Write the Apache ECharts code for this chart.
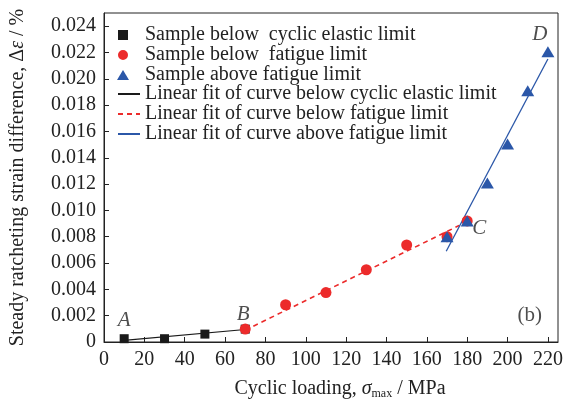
<!DOCTYPE html>
<html><head><meta charset="utf-8">
<script src="https://cdn.jsdelivr.net/npm/echarts@6/dist/echarts.min.js"></script>
<style>html,body{margin:0;padding:0;background:#fff}#c{width:566px;height:405px}</style>
</head><body><div id="c"></div>
<script>
// Data
const elasticX = [10, 30, 50, 70];
const elasticY = [0.00025, 0.00025, 0.0006, 0.00098];
const fatigueBelowX = [70, 90, 110, 130, 150, 170, 180];
const fatigueBelowY = [0.00098, 0.00283, 0.00376, 0.00549, 0.00737, 0.0080, 0.0092];
const fatigueAboveX = [170, 180, 190, 200, 210, 220];
const fatigueAboveY = [0.0080, 0.0092, 0.01208, 0.01504, 0.0191, 0.02206];
const fitElasticX = [10, 70];
const fitElasticY = [0.00013, 0.00095];
const fitBelowX = [70, 176];
const fitBelowY = [0.0009, 0.00885];
const fitAboveX = [169.6, 220];
const fitAboveY = [0.0069, 0.0215];
const pointLabels = ['A', 'B', 'C', 'D'];
const pointLabelX = [10, 69, 186, 216];
const pointLabelY = [0.0016, 0.0021, 0.0086, 0.0234];
const panelLabel = '(b)';
const panelX = 211;
const panelY = 0.0020;
const seriesNames = [
  'Sample below  cyclic elastic limit',
  'Sample below  fatigue limit',
  'Sample above fatigue limit',
  'Linear fit of curve below cyclic elastic limit',
  'Linear fit of curve below fatigue limit',
  'Linear fit of curve above fatigue limit'
];

const zip = (xs, ys) => xs.map((x, i) => [x, ys[i]]);
const FONT = 'Liberation Serif';
const TXT = '#222';
const BLACK = '#1a1a1a', RED = '#ec2b2b', BLUE = '#2b57a8';
const ICON_SQUARE = 'path://M0,0H10V10H0Z';
const ICON_CIRCLE = 'path://M5,0A5,5,0,1,1,4.99,0Z';
const ICON_TRI = 'path://M6,0L12,10H0Z';

const chart = echarts.init(document.getElementById('c'));
chart.setOption({
  animation: false,
  textStyle: { fontFamily: FONT },
  grid: { left: 104, right: 8, top: 13, bottom: 59, show: true, borderColor: TXT, borderWidth: 1 },
  legend: [
    {
      data: [
        { name: seriesNames[0], icon: ICON_SQUARE },
        { name: seriesNames[1], icon: ICON_CIRCLE },
        { name: seriesNames[2], icon: ICON_TRI }
      ],
      orient: 'vertical', left: 117, top: 25,
      itemWidth: 22, itemHeight: 10, itemGap: 0, padding: 0, symbolKeepAspect: true,
      textStyle: { fontFamily: FONT, fontSize: 20, color: TXT, lineHeight: 20, padding: [0, 0, 0, 6] }
    },
    {
      data: seriesNames.slice(3), orient: 'vertical', left: 117, top: 84,
      itemWidth: 22, itemHeight: 10, itemGap: 0, padding: 0,
      itemStyle: { opacity: 0 },
      textStyle: { fontFamily: FONT, fontSize: 20, color: TXT, lineHeight: 20 }
    }
  ],
  xAxis: {
    type: 'value', min: 0, max: 225, interval: 20,
    name: 'Cyclic loading, {i|σ}{sub|max} / MPa', nameLocation: 'middle', nameGap: 36,
    nameTextStyle: { fontFamily: FONT, fontSize: 20, color: TXT, padding: [0, 0, 0, 18],
      rich: { i: { fontFamily: FONT, fontSize: 20, fontStyle: 'italic', color: TXT },
              sub: { fontFamily: FONT, fontSize: 12, color: TXT, verticalAlign: 'bottom', padding: [10, 0, 0, 0] } } },
    axisLine: { lineStyle: { color: TXT, width: 1 } },
    axisTick: { inside: true, length: 5, lineStyle: { color: TXT } },
    axisLabel: { fontFamily: FONT, fontSize: 20, color: TXT, margin: 8, showMaxLabel: false,
      formatter: v => (v % 20 === 0 ? String(v) : '') },
    splitLine: { show: false }
  },
  yAxis: {
    type: 'value', min: 0, max: 0.025, interval: 0.002,
    name: 'Steady ratcheting strain difference, Δ{i|ε} / %', nameLocation: 'middle', nameGap: 76,
    nameTextStyle: { fontFamily: FONT, fontSize: 20, color: TXT,
      rich: { i: { fontFamily: FONT, fontSize: 20, fontStyle: 'italic', color: TXT } } },
    axisLine: { show: true, lineStyle: { color: TXT, width: 1 } },
    axisTick: { show: true, inside: true, length: 5, lineStyle: { color: TXT } },
    axisLabel: { fontFamily: FONT, fontSize: 20, color: TXT, margin: 8, showMaxLabel: false,
      formatter: v => {
        const k = Math.round(v / 0.002);
        if (Math.abs(v - k * 0.002) > 1e-9) return '';
        return k === 0 ? '0' : v.toFixed(3);
      } },
    splitLine: { show: false }
  },
  series: [
    { name: seriesNames[3], type: 'line', data: zip(fitElasticX, fitElasticY), symbol: 'none',
      lineStyle: { color: BLACK, width: 1.2 }, itemStyle: { color: BLACK }, z: 2 },
    { name: seriesNames[4], type: 'line', data: zip(fitBelowX, fitBelowY), symbol: 'none',
      lineStyle: { color: RED, width: 1.6, type: [5, 4] }, itemStyle: { color: RED }, z: 2 },
    { name: seriesNames[5], type: 'line', data: zip(fitAboveX, fitAboveY), symbol: 'none',
      lineStyle: { color: BLUE, width: 1.3 }, itemStyle: { color: BLUE }, z: 2 },
    { name: seriesNames[0], type: 'scatter', data: zip(elasticX, elasticY), symbol: 'rect', symbolSize: 9,
      itemStyle: { color: BLACK, opacity: 1 }, z: 3 },
    { name: seriesNames[1], type: 'scatter', data: zip(fatigueBelowX, fatigueBelowY), symbol: 'circle', symbolSize: 11,
      itemStyle: { color: RED, opacity: 1 }, z: 4 },
    { name: seriesNames[2], type: 'scatter', data: zip(fatigueAboveX, fatigueAboveY), symbol: 'triangle', symbolSize: [13, 11],
      itemStyle: { color: BLUE, opacity: 1 }, z: 5 },
    { name: 'labels', type: 'scatter', symbolSize: 0, silent: true, z: 6,
      data: pointLabels.map((t, i) => ({ value: [pointLabelX[i], pointLabelY[i]], name: t }))
        .concat([{ value: [panelX, panelY], name: panelLabel, label: { fontStyle: 'normal' } }]),
      label: { show: true, position: 'inside', formatter: p => p.name,
        fontFamily: FONT, fontSize: 21, fontStyle: 'italic', color: TXT } }
  ]
});
</script></body></html>
